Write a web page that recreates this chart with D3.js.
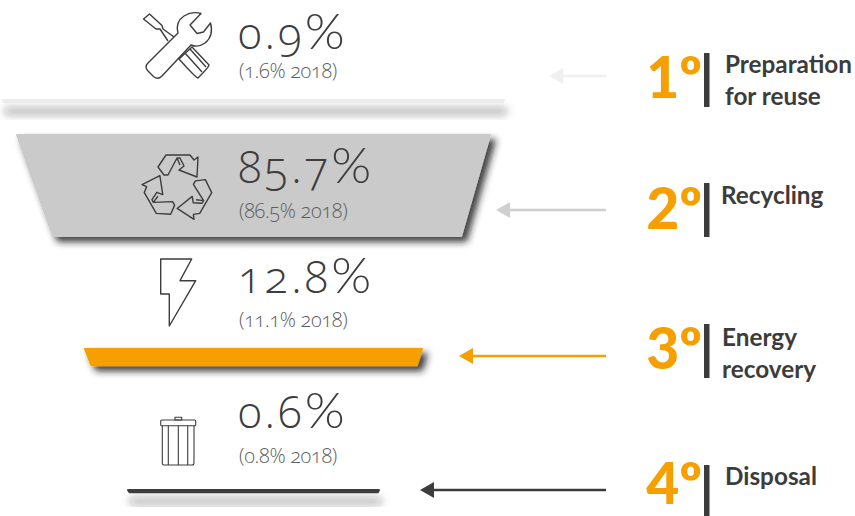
<!DOCTYPE html>
<html>
<head>
<meta charset="utf-8">
<script src="https://cdn.jsdelivr.net/npm/d3@7/dist/d3.min.js"></script>
<style>
  html, body { margin: 0; padding: 0; background: #fff; }
  svg { display: block; }
  text { font-family: Lato, "Open Sans", sans-serif; }
  .value { font-family: "Open Sans", Lato, sans-serif; font-weight: 300; font-size: 44px; fill: #3d3d3d; font-feature-settings: "onum" 1; letter-spacing: 3px; }
  .value .pct { font-family: Lato, sans-serif; font-size: 49.5px; letter-spacing: 0; }
  .previous { font-family: "Open Sans", Lato, sans-serif; font-weight: 300; font-size: 20px; fill: #5e5e5e; font-feature-settings: "onum" 1; letter-spacing: -0.3px; }
  .rank { font-weight: 900; font-size: 57px; fill: #f59f00; }
  .label { font-weight: 700; font-size: 24.3px; fill: #3c3c3c; }
</style>
</head>
<body>
<svg id="chart" width="855" height="516"></svg>
<script>
// chart data
var categories = ['reuse', 'recycling', 'energy', 'disposal'];
var values2019 = [0.9, 85.7, 12.8, 0.6];
var values2018 = [1.6, 86.5, 11.1, 0.8];
var ranks = ['1', '2', '3', '4'];
var labels = [['Preparation', 'for reuse'], ['Recycling'], ['Energy', 'recovery'], ['Disposal']];

var width = 855, height = 516;
var svg = d3.select('#chart');

// layout per row
var barTop = d3.scaleOrdinal().domain(categories).range([99, 134, 348, 489]);
var barWidth = d3.scaleOrdinal().domain(categories).range([503, 475, 339, 253]);
var barFill = d3.scaleOrdinal().domain(categories).range(['#ececec', '#cacaca', '#f59f00', '#3c3c3c']);
var arrowFill = d3.scaleOrdinal().domain(categories).range(['#f0f0f0', '#cfcfcf', '#f59f00', '#3c3c3c']);
var arrowTip = d3.scaleOrdinal().domain(categories).range([549, 496, 459, 420]);
var arrowY = d3.scaleOrdinal().domain(categories).range([76, 210, 356, 490]);
var valueY = d3.scaleOrdinal().domain(categories).range([49, 183, 293, 428]);
var previousY = d3.scaleOrdinal().domain(categories).range([78, 218, 327, 463]);
var rankY = d3.scaleOrdinal().domain(categories).range([98, 229, 369, 504]);
var sepY = d3.scaleOrdinal().domain(categories).range([53, 183, 324, 465]);
var labelX = d3.scaleOrdinal().domain(categories).range([725, 721, 722, 725]);
var labelY = d3.scaleOrdinal().domain(categories).range([73, 204, 346, 485]);

var barHeight = d3.scaleLinear().domain([0, 85.7]).range([3.5, 103]);
var centerX = 253.5, leftSlope = 0.35, rightSlope = 0.28;

var defs = svg.append('defs');
[['shadow', 5, 5, 3.5, 0.85], ['shadowSoft', 2, 10, 4, 0.55]].forEach(function(f) {
  defs.append('filter').attr('id', f[0])
    .attr('x', '-10%').attr('y', '-50%').attr('width', '120%').attr('height', '800%')
    .append('feDropShadow')
    .attr('dx', f[1]).attr('dy', f[2]).attr('stdDeviation', f[3])
    .attr('flood-color', '#222').attr('flood-opacity', f[4]);
});

var rows = categories.map(function(c, i) {
  return { key: c, value: values2019[i], previous: values2018[i], rank: ranks[i], label: labels[i] };
});

var line = d3.line();

// funnel bars, the stroke only rounds the corners
svg.append('g').selectAll('path').data(rows).enter().append('path')
  .attr('d', function(d) {
    var h = barHeight(d.value), w = barWidth(d.key) - 2;
    var t = barTop(d.key) + 1, b = t + Math.max(h - 2, 1);
    var l = centerX - w / 2, r = centerX + w / 2;
    return line([[l, t], [r, t], [r - h * rightSlope, b], [l + h * leftSlope, b]]) + 'Z';
  })
  .attr('fill', function(d) { return barFill(d.key); })
  .attr('stroke', function(d) { return barFill(d.key); })
  .attr('stroke-width', 2)
  .attr('stroke-linejoin', 'round')
  .attr('filter', function(d) { return d.value < 1 ? 'url(#shadowSoft)' : 'url(#shadow)'; });

// main values
var valueText = svg.append('g').selectAll('text').data(rows).enter().append('text')
  .attr('class', 'value')
  .attr('x', 238)
  .attr('y', function(d) { return valueY(d.key); })
  .text(function(d) { return d.value; });
valueText.append('tspan').attr('class', 'pct')
  .attr('textLength', 40)
  .attr('lengthAdjust', 'spacingAndGlyphs')
  .text('%');

svg.append('g').selectAll('text').data(rows).enter().append('text')
  .attr('class', 'previous')
  .attr('x', 239)
  .attr('y', function(d) { return previousY(d.key); })
  .text(function(d) { return '(' + d.previous + '% 2018)'; });

// arrows
var arrows = svg.append('g').selectAll('g').data(rows).enter().append('g')
  .attr('fill', function(d) { return arrowFill(d.key); })
  .attr('stroke', function(d) { return arrowFill(d.key); });
arrows.append('line')
  .attr('x1', 606)
  .attr('x2', function(d) { return arrowTip(d.key) + 12; })
  .attr('y1', function(d) { return arrowY(d.key); })
  .attr('y2', function(d) { return arrowY(d.key); })
  .attr('stroke-width', 2.5);
arrows.append('path')
  .attr('stroke', 'none')
  .attr('d', function(d) {
    var x = arrowTip(d.key), y = arrowY(d.key);
    return line([[x, y], [x + 14, y - 8], [x + 14, y + 8]]) + 'Z';
  });

// right hand legend
svg.append('g').selectAll('text').data(rows).enter().append('text')
  .attr('class', 'rank')
  .attr('x', 702)
  .attr('y', function(d) { return rankY(d.key); })
  .attr('text-anchor', 'end')
  .text(function(d) { return d.rank + '\u00ba'; });

svg.append('g').selectAll('rect').data(rows).enter().append('rect')
  .attr('x', 704).attr('width', 5.5)
  .attr('y', function(d) { return sepY(d.key); })
  .attr('height', 54)
  .attr('fill', '#3c3c3c');

svg.append('g').selectAll('text').data(rows).enter().append('text')
  .attr('class', 'label')
  .attr('x', function(d) { return labelX(d.key); })
  .attr('y', function(d) { return labelY(d.key); })
  .selectAll('tspan').data(function(d) {
    return d.label.map(function(t) { return { t: t, x: labelX(d.key) }; });
  }).enter().append('tspan')
  .attr('x', function(d) { return d.x; })
  .attr('dy', function(d, i) { return i ? 32 : 0; })
  .text(function(d) { return d.t; });

// icons
var icons = svg.append('g').attr('fill', 'none').attr('stroke', '#3d3d3d')
  .attr('stroke-width', 1.4).attr('stroke-linejoin', 'round');

// tools
icons.append('path').attr('d',
  'M201,13.5 L190,25 L197,33.5 L203.5,32 L210.5,23 Q214,36 205,43 Q198,48 191,45 L162,76 Q158,80 154,77 L148,71 Q144,67 148,63 L178,33 Q175,22 184,16 Q192,11 201,13.5 Z');
icons.append('path').attr('d',
  'M168,41 L160,29 L156,29 L143.5,19 L149.5,14 L162,25.5 L163,29 L174,37' +
  'M179,59 L192,47 L209,65 Q209,67 198,78 Q196,78 179,59 Z M185,53 L202,72 M190,49 L206,67');

// recycling, one arrow turned three times
var recycleG = icons.append('g');
[0, 120, 240].forEach(function(a) {
  recycleG.append('path')
    .attr('transform', 'rotate(' + a + ' 178 187)')
    .attr('d', 'M164,175 L158,167 L166,155 L190,155 L194,160 L198,157 L197,177 L179,170 L184,166 L180,158 L177,158 L168,175 Z M177,158 L180,165');
});

// bolt
icons.append('path').attr('d', 'M160.7,259 L191.7,259 L180,280.7 L195.7,280.7 L169.3,326 L169.3,294 L160.7,294 Z');

// bin
var bin = icons.append('g').attr('stroke-width', 1.1);
bin.append('rect').attr('x', 160.7).attr('y', 420).attr('width', 35).attr('height', 5.7).attr('rx', 1);
bin.append('rect').attr('x', 175).attr('y', 417.3).attr('width', 6.7).attr('height', 2.7);
bin.append('path').attr('d', 'M162.3,425.7 L162.3,463 Q162.3,465 164,465 L192,465 Q194,465 194,463 L194,425.7 M168.3,425.7 L168.3,465 M178.3,425.7 L178.3,465 M187.7,425.7 L187.7,465');
</script>
</body>
</html>
